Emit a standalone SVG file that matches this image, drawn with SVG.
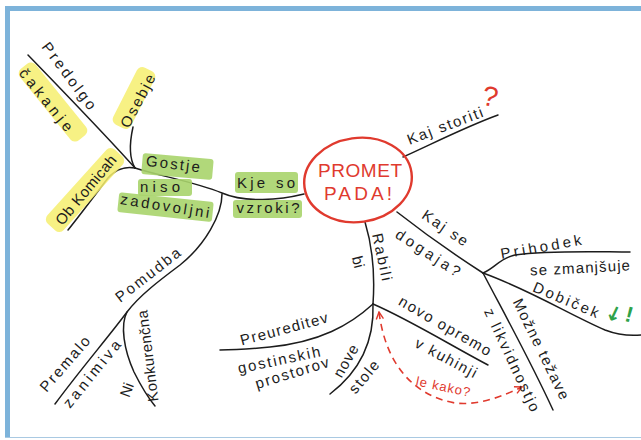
<svg xmlns="http://www.w3.org/2000/svg" width="641" height="440" viewBox="0 0 641 440">
<defs>
<style>
.ln{fill:none;stroke:#1c1c1c;stroke-width:1.5;stroke-linecap:round}
.t{font-family:"Liberation Sans","DejaVu Sans",sans-serif;font-size:15px;fill:#1c1c1c;text-anchor:middle}
.yl{fill:#f6ee6e;opacity:0.85}
.gr{fill:#a8d46c;opacity:0.9}
.red{fill:#e03a2e}
</style>
<marker id="ah" viewBox="0 0 10 10" refX="9" refY="5" markerWidth="9" markerHeight="9" orient="auto-start-reverse" markerUnits="userSpaceOnUse">
<path d="M1,1 L9,5 L1,9" fill="none" stroke="#e03a2e" stroke-width="1.6"/>
</marker>
</defs>
<rect width="641" height="440" fill="#ffffff"/>
<g id="frame">
<rect x="5" y="6" width="636" height="5" fill="#7db3da"/>
<rect x="5" y="6" width="5" height="431" fill="#7db3da"/>
<line x1="5" y1="437.5" x2="641" y2="437.5" stroke="#a9c9e2" stroke-width="1"/>
</g>
<g id="connectors">
<path class="ln" d="M304 194 C280 200 245 203 222 193 C195 182 160 176 135 168"/>
<path class="ln" d="M135 168 C110 140 60 88 28 55"/>
<path class="ln" d="M135 168 C129 158 129 145 133 127"/>
<path class="ln" d="M135 168 C125 166 115 170 108 178 C95 195 80 215 68 230"/>
<path class="ln" d="M222 194 C222 215 205 245 180 265 C160 280 140 295 127 312 C110 335 80 370 55 404"/>
<path class="ln" d="M127 312 C120 325 124 350 134 372 C144 392 150 400 155 406"/>
<path class="ln" d="M403 157 C430 145 465 127 498 115"/>
<path class="ln" d="M397 212 C420 230 455 255 483 273"/>
<path class="ln" d="M483 273 C495 268 500 258 515 255 C550 250 600 252 630 252"/>
<path class="ln" d="M483 273 C530 290 570 315 605 330 C618 335 630 336 641 335"/>
<path class="ln" d="M483 273 C505 315 530 360 553 410"/>
<path class="ln" d="M365 222 C372 245 375 275 373 304"/>
<path class="ln" d="M373 304 C350 325 320 342 270 347 C250 349 235 350 220 350"/>
<path class="ln" d="M373 304 C374 330 368 365 330 394"/>
<path class="ln" d="M373 304 C410 320 450 345 488 365"/>
<path d="M379 312 C385 360 410 395 455 403 C480 406 505 395 522 387" fill="none" stroke="#e03a2e" stroke-width="1.6" stroke-dasharray="7 5" marker-start="url(#ah)" marker-end="url(#ah)"/>
</g>
<g id="center">
<ellipse cx="358" cy="180" rx="54" ry="42" transform="rotate(-8 358 180)" fill="none" stroke="#e03a2e" stroke-width="2.4"/>
<text x="360" y="177" class="red" font-family="Liberation Sans, sans-serif" font-size="19" text-anchor="middle" textLength="84" lengthAdjust="spacing">PROMET</text>
<text x="358" y="200" class="red" font-family="Liberation Sans, sans-serif" font-size="19" text-anchor="middle" textLength="68" lengthAdjust="spacing">PADA!</text>
</g>
<g id="predolgo">
<rect class="yl" x="-46" y="-10" width="92" height="20" rx="6" transform="translate(53 102) rotate(51)"/>
<text class="t" transform="translate(69 76) rotate(53)" dy="5" textLength="80" lengthAdjust="spacing">Predolgo</text>
<text class="t" transform="translate(46 100) rotate(51)" dy="5" textLength="76" lengthAdjust="spacing">čakanje</text>
</g>
<g id="osebje">
<rect class="yl" x="-32" y="-10" width="64" height="20" rx="6" transform="translate(134 98) rotate(-63)"/>
<text class="t" transform="translate(138 101) rotate(-62)" dy="5" textLength="58" lengthAdjust="spacing">Osebje</text>
</g>
<g id="obkomicah">
<rect class="yl" x="-50" y="-11" width="100" height="22" rx="6" transform="translate(85 190) rotate(-48)"/>
<text class="t" transform="translate(86 190) rotate(-50)" dy="5" textLength="86" lengthAdjust="spacing">Ob Komicah</text>
</g>
<g id="gostje">
<rect class="gr" x="142" y="156" width="71" height="21" rx="3" transform="rotate(5 177 166)"/>
<rect class="gr" x="138" y="179" width="54" height="17" rx="3"/>
<rect class="gr" x="118" y="197" width="95" height="20" rx="3" transform="rotate(6 165 207)"/>
<text class="t" transform="translate(173 164) rotate(7)" dy="5" textLength="54" lengthAdjust="spacing">Gostje</text>
<text class="t" transform="translate(160 187)" dy="5" textLength="40" lengthAdjust="spacing">niso</text>
<text class="t" transform="translate(165 206) rotate(9)" dy="5" textLength="90" lengthAdjust="spacing">zadovoljni</text>
</g>
<g id="vzroki">
<rect class="gr" x="235" y="172" width="63" height="21" rx="3"/>
<rect class="gr" x="233" y="200" width="69" height="18" rx="3"/>
<text class="t" x="266" y="183" dy="5" textLength="58" lengthAdjust="spacing">Kje so</text>
<text class="t" x="268" y="208" dy="5" textLength="63" lengthAdjust="spacing">vzroki?</text>
</g>
<g id="kajstoriti">
<text class="t" transform="translate(445 126) rotate(-21)" dy="5" textLength="80" lengthAdjust="spacing">Kaj storiti</text>
<text class="red" transform="translate(490 97) rotate(12)" dy="9" font-family="Liberation Sans, sans-serif" font-size="28" text-anchor="middle">?</text>
</g>
<g id="kajsedogaja">
<text class="t" transform="translate(445 228) rotate(34)" dy="5" textLength="52" lengthAdjust="spacing">Kaj se</text>
<text class="t" transform="translate(428 253) rotate(33)" dy="5" textLength="74" lengthAdjust="spacing">dogaja?</text>
</g>
<g id="prihodek">
<text class="t" transform="translate(541 247) rotate(-10)" dy="5" textLength="82" lengthAdjust="spacing">Prihodek</text>
<text class="t" transform="translate(580 268) rotate(-3)" dy="5" textLength="100" lengthAdjust="spacing">se zmanjšuje</text>
</g>
<g id="dobicek">
<text class="t" transform="translate(566 300) rotate(23)" dy="5" textLength="70" lengthAdjust="spacing">Dobiček</text>
<text transform="translate(614 314) rotate(25)" dy="7" font-family="DejaVu Sans, sans-serif" font-size="20" font-weight="bold" fill="#2ea24a" text-anchor="middle">↓</text>
<text transform="translate(629 315) rotate(15)" dy="7" font-family="Liberation Sans, sans-serif" font-size="22" font-weight="bold" fill="#2ea24a" text-anchor="middle">!</text>
</g>
<g id="mozne">
<text class="t" transform="translate(541 349) rotate(64)" dy="5" textLength="110" lengthAdjust="spacing">Možne težave</text>
<text class="t" transform="translate(512 360) rotate(65)" dy="5" textLength="112" lengthAdjust="spacing">z likvidnostjo</text>
</g>
<g id="rabili">
<text class="t" transform="translate(382 257) rotate(78)" dy="5" textLength="48" lengthAdjust="spacing">Rabili</text>
<text class="t" transform="translate(358 262) rotate(76)" dy="5">bi</text>
</g>
<g id="preureditev">
<text class="t" transform="translate(284 329) rotate(-15)" dy="5" textLength="90" lengthAdjust="spacing">Preureditev</text>
<text class="t" transform="translate(279 360) rotate(-12)" dy="5" textLength="84" lengthAdjust="spacing">gostinskih</text>
<text class="t" transform="translate(292 373) rotate(-17)" dy="5" textLength="76" lengthAdjust="spacing">prostorov</text>
</g>
<g id="novestole">
<text class="t" transform="translate(346 361) rotate(-60)" dy="5" textLength="35" lengthAdjust="spacing">nove</text>
<text class="t" transform="translate(364 377) rotate(-50)" dy="5" textLength="38" lengthAdjust="spacing">stole</text>
</g>
<g id="novoopremo">
<text class="t" transform="translate(445 326) rotate(30)" dy="5" textLength="104" lengthAdjust="spacing">novo opremo</text>
<text class="t" transform="translate(446 358) rotate(28)" dy="5" textLength="68" lengthAdjust="spacing">v kuhinji</text>
</g>
<g id="lekako">
<text class="red" transform="translate(443 387) rotate(12)" dy="4" font-family="Liberation Sans, sans-serif" font-size="13" text-anchor="middle" textLength="55" lengthAdjust="spacing">le kako?</text>
</g>
<g id="pomudba">
<text class="t" transform="translate(148 275) rotate(-38)" dy="5" textLength="78" lengthAdjust="spacing">Pomudba</text>
</g>
<g id="premalo">
<text class="t" transform="translate(65 364) rotate(-49)" dy="5" textLength="68" lengthAdjust="spacing">Premalo</text>
<text class="t" transform="translate(92 374) rotate(-51)" dy="5" textLength="82" lengthAdjust="spacing">zanimiva</text>
</g>
<g id="konkurencna">
<text class="t" transform="translate(127 390) rotate(-70)" dy="5">Ni</text>
<text class="t" transform="translate(148 356) rotate(-97)" dy="5" textLength="92" lengthAdjust="spacing">Konkurenčna</text>
</g>
</svg>
